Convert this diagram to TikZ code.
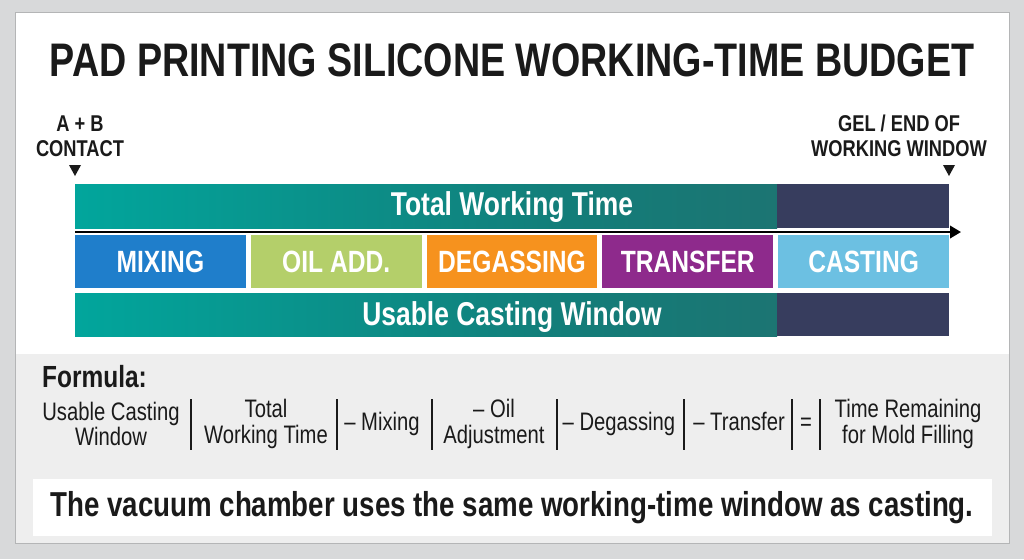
\documentclass[tikz,border=0pt]{standalone}
\usepackage{fontspec}
\setmainfont{Liberation Sans}[FakeStretch=0.8]
\usepackage{xcolor}
\usetikzlibrary{arrows.meta}
\definecolor{pagegray}{HTML}{D8D9DA}
\definecolor{cardline}{HTML}{B4B5B6}
\definecolor{panelgray}{HTML}{EEEEEE}
\definecolor{tealA}{HTML}{00A99F}
\definecolor{tealB}{HTML}{137D79}
\definecolor{tealC}{HTML}{2B6667}
\definecolor{navy}{HTML}{373D5E}
\definecolor{mixblue}{HTML}{1F7ECB}
\definecolor{oilgreen}{HTML}{B4CF6A}
\definecolor{degorange}{HTML}{F6921E}
\definecolor{transpurple}{HTML}{8E2A8C}
\definecolor{castblue}{HTML}{6CC0E2}
\definecolor{ink}{HTML}{1A1A1A}
\pgfdeclarehorizontalshading{tealfade}{100bp}{color(0bp)=(tealA); color(22bp)=(tealA); color(60bp)=(tealB); color(100bp)=(tealC)}
\tikzset{title/.style={font=\bfseries\fontsize{26.8}{32}\selectfont, text=ink},
 marker/.style={font=\bfseries\fontsize{13}{14.2}\selectfont, text=ink, align=center},
 bartext/.style={font=\bfseries\fontsize{18.8}{22}\selectfont, text=white},
 seg/.style={minimum width=3.416cm, minimum height=1.06cm, inner sep=0pt,
   font=\bfseries\fontsize{17.5}{21}\selectfont, text=white},
 timeline/.style={line width=1.2pt, -{Triangle[length=0.22cm, width=0.25cm]}},
 fhead/.style={font=\bfseries\fontsize{17.4}{21}\selectfont, text=ink},
 term/.style={font=\fontsize{14.4}{14.6}\selectfont, text=ink, align=center, inner sep=1pt},
 oneterm/.style={term, text height=10.5pt, text depth=3pt},
 sepbar/.style={line width=0.9pt, ink},
 note/.style={font=\bfseries\fontsize{19.7}{24}\selectfont, text=ink},
 }

\begin{document}
\begin{tikzpicture}[x=0.02cm, y=-0.02cm]
        \useasboundingbox (0,0) rectangle (1024,559);
        \fill[pagegray] (0,0) rectangle (1024,559);
        \filldraw[fill=white, draw=cardline] (15,12) rectangle (1009,543);
        \fill[panelgray] (15.5,354) rectangle (1008.5,542.5);
        \node[title] (ttl) at (512,60) {PAD PRINTING SILICONE WORKING-TIME BUDGET};
        % start and end of the window
        \node[marker] (contact) at (80,136) {A + B\\CONTACT};
        \node[marker] (gel) at (899,136) {GEL / END OF\\WORKING WINDOW};
        \fill[ink] (69,165) -- (81,165) -- (75,176) -- cycle;
        \fill[ink] (943,165) -- (955,165) -- (949,176) -- cycle;
        % bars
        \shade[shading=tealfade] (75,184) rectangle (777,228);
        \fill[navy] (777,184) rectangle (949,228);
        \shade[shading=tealfade] (75,293) rectangle (777,336);
        \fill[navy] (777,293) rectangle (949,336);
        \node[bartext] (total) at (512,207) {Total Working Time};
        \node[bartext] (usable) at (512,317) {Usable Casting Window};
        \coordinate (t0) at (75,232);
        \coordinate (t1) at (961,232);
        \draw[timeline] (t0) -- (t1);
        \foreach \i/\nm/\col/\txt in {0/mix/mixblue/MIXING, 1/oil/oilgreen/OIL ADD.,
          2/degas/degorange/DEGASSING, 3/transfer/transpurple/TRANSFER, 4/cast/castblue/CASTING}
          \node[seg, fill=\col] (\nm) at (160.4+175.8*\i,261.5) {\txt};
        % formula
        \node[fhead, anchor=west] (fml) at (36,377) {Formula:};
        \node[term] (f1) at (111,424) {Usable Casting\\Window};
        \node[term] (f2) at (266,424) {Total\\Working Time};
        \node[oneterm] (f3) at (382,424) {– Mixing};
        \node[term] (f4) at (494,424) {– Oil\\Adjustment};
        \node[oneterm] (f5) at (619,424) {– Degassing};
        \node[oneterm] (f6) at (739,424) {– Transfer};
        \node[oneterm] (f7) at (806,424) {=};
        \node[term] (f8) at (908,424) {Time Remaining\\for Mold Filling};
        \foreach \x in {191,337,432,557,684,792,820}
          \draw[sepbar] (\x,399) -- (\x,450);
        \fill[white] (33,479) rectangle (992,536);
        \node[note] (vac) at (512,508) {The vacuum chamber uses the same working-time window as casting.};
    \end{tikzpicture}
\end{document}
